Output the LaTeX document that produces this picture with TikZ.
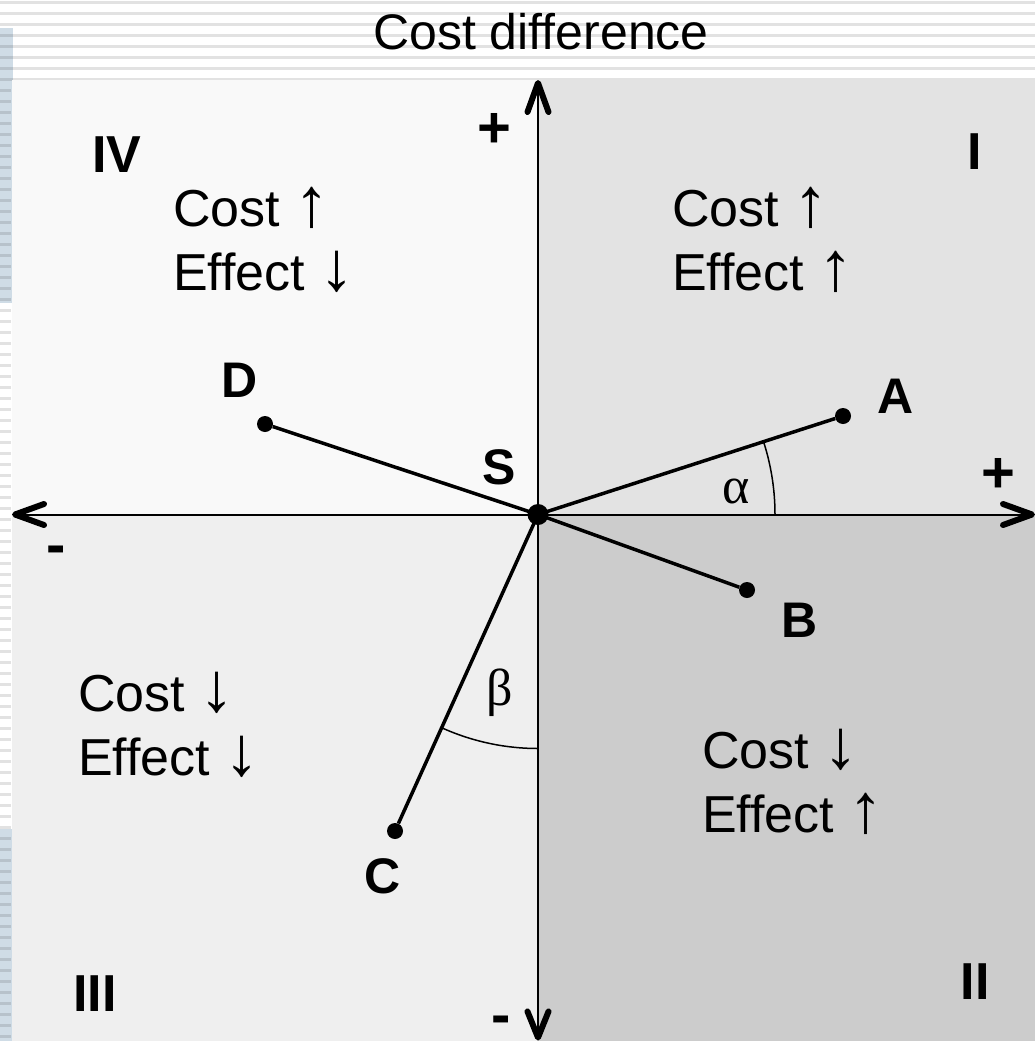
\documentclass[tikz,border=0pt]{standalone}
\usepackage{fontspec}
\setmainfont{Liberation Sans}
\newfontfamily\greekfont{Liberation Serif}
\definecolor{cdBlue} {HTML}{CFDCE6}
\definecolor{cdQI}   {HTML}{E3E3E3}
\definecolor{cdQII}  {HTML}{CCCCCC}
\definecolor{cdQIII} {HTML}{EFEFEF}
\definecolor{cdQIV}  {HTML}{F9F9F9}
\newcommand{\cdUp}{{\fontsize{70}{64}\selectfont ↑}}
\newcommand{\cdDn}{{\fontsize{70}{64}\selectfont ↓}}

\tikzset{
  axis/.style={line width=2pt},
  barbline/.style={line width=6pt,line cap=round,line join=round},
  seg/.style={line width=3.5pt},
  anglemark/.style={line width=1.5pt},
  dot/.style={circle,fill=black,inner sep=0,minimum size=16pt},
  quadtxt/.style={font=\fontsize{52}{64}\selectfont,inner sep=0,anchor=base west},
  quadnum/.style={font=\fontsize{52}{64}\selectfont\bfseries,inner sep=0},
  ptlabel/.style={font=\fontsize{50}{60}\selectfont\bfseries,inner sep=0},
  sign/.style={font=\fontsize{58}{64}\selectfont\bfseries,inner sep=0},
  greek/.style={font=\fontsize{52}{60}\selectfont\greekfont,inner sep=0}
}

\begin{document}
\begin{tikzpicture}[x=1pt,y=-1pt]
  \useasboundingbox (0,0) rectangle (1035,1041);
  % page background
  \fill[white] (0,0) rectangle (1035,1041);
  \fill[cdBlue] (0,28) rectangle (12.5,303);
  \fill[cdBlue] (0,829) rectangle (12.5,1041);
  \foreach \k in {0,...,7}
    \fill[black,opacity=0.115] (0,{1+11*\k}) rectangle (1035,{4+11*\k});
  \foreach \k in {8,...,94}
    \fill[black,opacity=0.115] (0,{1+11*\k}) rectangle (11,{4+11*\k});

  % quadrants
  \fill[cdQIV]  (12,80)  rectangle (538,515);
  \fill[cdQI]   (538,80) rectangle (1035,515);
  \fill[cdQIII] (12,515) rectangle (538,1041);
  \fill[cdQII]  (538,515) rectangle (1035,1041);

  \node[anchor=base,inner sep=0,font=\fontsize{50}{60}\selectfont] (ttl) at (541,50) {Cost difference};

  % axes
  \coordinate (S) at (538,514.5);
  \coordinate (xW) at (15,514.5);
  \coordinate (xE) at (1032,514.5);
  \coordinate (yN) at (538,83);
  \coordinate (yS) at (538,1037.5);
  \draw[axis] (xW) -- (xE);
  \draw[axis] (yS) -- (yN);
  \draw[barbline] ([shift={(29,-10.5)}]xW) -- (xW) -- ([shift={(29,10.5)}]xW);
  \draw[barbline] ([shift={(-29,-10.5)}]xE) -- (xE) -- ([shift={(-29,10.5)}]xE);
  \draw[barbline] ([shift={(-10.5,29)}]yN) -- (yN) -- ([shift={(10.5,29)}]yN);
  \draw[barbline] ([shift={(-10.5,-26)}]yS) -- (yS) -- ([shift={(10.5,-26)}]yS);

  \node[sign] (pY) at (494,130) {+};
  \node[sign] (pX) at (998,475) {+};
  \node[sign,anchor=base] (mX) at (56,564) {-};
  \node[sign,anchor=base] (mY) at (501,1034) {-};

  % alternatives
  \node[dot] (A) at (843,416) {};
  \node[dot] (B) at (747,590) {};
  \node[dot] (C) at (395,831) {};
  \node[dot] (D) at (265,424) {};
  \draw[seg] (S) -- (A);
  \draw[seg] (S) -- (B);
  \draw[seg] (S) -- (C);
  \draw[seg] (S) -- (D);
  \node[dot,minimum size=21pt] (So) at (S) {};

  \node[ptlabel] (lA) at (896,396) {A};
  \node[ptlabel] (lB) at (800,620) {B};
  \node[ptlabel] (lC) at (383,876) {C};
  \node[ptlabel] (lD) at (240,380) {D};
  \node[ptlabel] (lS) at (499,467) {S};

  % angles
  \draw[anglemark] (S) ++(0:237) arc[start angle=0,end angle=-18,radius=237];
  \draw[anglemark] (S) ++(90:234) arc[start angle=90,end angle=114.3,radius=234];
  \node[greek] (alpha) at (736,491) {α};
  \node[greek] (beta) at (500,693) {β};

  % quadrant labels
  \node[quadnum] (qIV) at (117,155) {IV};
  \node[quadnum] (qI) at (975,152) {I};
  \node[quadnum] (qIII) at (95,994) {III};
  \node[quadnum] (qII) at (975,982) {II};

  \node[quadtxt] (costIV) at (173,226) {Cost \cdUp};
  \node[quadtxt] (effIV) at ([yshift=-64pt]costIV.base west) {Effect \cdDn};
  \node[quadtxt] (costI) at (672,226) {Cost \cdUp};
  \node[quadtxt] (effI) at ([yshift=-64pt]costI.base west) {Effect \cdUp};
  \node[quadtxt] (costIII) at (78,711) {Cost \cdDn};
  \node[quadtxt] (effIII) at ([yshift=-64pt]costIII.base west) {Effect \cdDn};
  \node[quadtxt] (costII) at (702,768) {Cost \cdDn};
  \node[quadtxt] (effII) at ([yshift=-64pt]costII.base west) {Effect \cdUp};
\end{tikzpicture}
\end{document}
